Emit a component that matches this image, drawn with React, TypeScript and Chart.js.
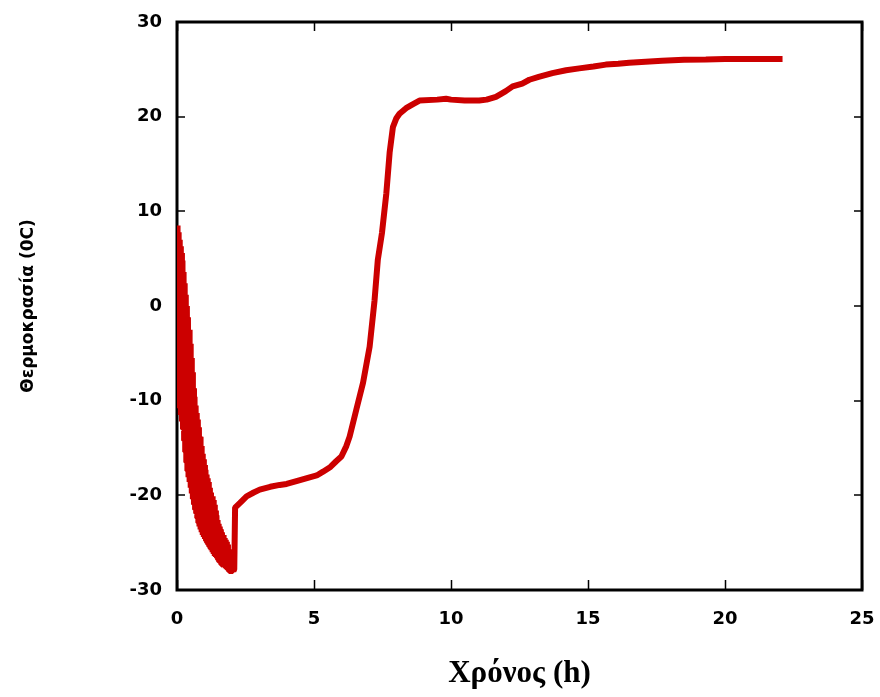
import React, { useEffect, useRef } from 'react';
import { Chart, registerables } from 'chart.js';

Chart.register(...registerables);

// Time (h)
const TIME_H = [
  0.0, 0.02, 0.04, 0.06, 0.08, 0.1, 0.12, 0.14, 0.16, 0.18, 0.2, 0.22, 0.24, 0.26, 0.28, 0.3,
  0.32, 0.34, 0.36, 0.38, 0.4, 0.42, 0.44, 0.46, 0.48, 0.5, 0.52, 0.54, 0.56, 0.58, 0.6, 0.62,
  0.64, 0.66, 0.68, 0.7, 0.72, 0.74, 0.76, 0.78, 0.8, 0.82, 0.84, 0.86, 0.88, 0.9, 0.92, 0.94,
  0.96, 0.98, 1.0, 1.02, 1.04, 1.06, 1.08, 1.1, 1.12, 1.14, 1.16, 1.18, 1.2, 1.22, 1.24, 1.26,
  1.28, 1.3, 1.32, 1.34, 1.36, 1.38, 1.4, 1.42, 1.44, 1.46, 1.48, 1.5, 1.52, 1.54, 1.56, 1.58,
  1.6, 1.62, 1.64, 1.66, 1.68, 1.7, 1.72, 1.74, 1.76, 1.78, 1.8, 1.82, 1.84, 1.86, 1.88, 1.9,
  1.92, 1.94, 1.96, 1.98, 2.0, 2.02, 2.04, 2.06, 2.09, 2.12,
  2.3, 2.54, 2.8, 3.02, 3.4, 3.75, 4.0, 4.36, 4.84, 5.1, 5.33, 5.6, 5.81, 6.0, 6.18, 6.3,
  6.54, 6.79, 7.03, 7.21, 7.33, 7.48, 7.64, 7.76, 7.88, 8.0, 8.12, 8.36, 8.6, 8.85, 9.5, 9.82,
  10.0, 10.5, 11.03, 11.3, 11.64, 12.0, 12.25, 12.6, 12.86, 13.2, 13.7, 14.2, 14.68, 15.2,
  15.65, 16.1, 16.5, 17.1, 17.7, 18.5, 19.3, 20.0, 21.0, 21.96, 22.1,
];

// Temperature (°C) — noisy cooling phase first (readings swing between two envelopes)
const TEMP_C = [
  8.5, -9.5, 7.8, -10.2, 7, -10.8, 6.3, -11.5, 5.6, -12.2, 4.8, -13, 3.6, -14.2, 2.4, -15.4,
  1.2, -16.5, 0, -17.4, -1.2, -18.1, -2.5, -18.6, -4, -19.2, -5.5, -19.8, -7, -20.4, -8.7, -21,
  -9.6, -21.5, -10.5, -21.9, -11.3, -22.4, -12, -22.9, -12.8, -23.3, -13.8, -23.6, -14.8, -23.9, -15.6, -24.2,
  -16.2, -24.4, -16.8, -24.6, -17.3, -24.8, -17.8, -25, -18.2, -25.2, -18.6, -25.4, -19.2, -25.6, -19.7, -25.8,
  -20.1, -26, -20.5, -26.2, -21, -26.4, -21.6, -26.5, -22.1, -26.6, -22.6, -26.8, -23, -27, -23.3, -27.1,
  -23.6, -27.3, -23.9, -27.4, -24.2, -27.5, -24.5, -27.6, -24.7, -27.7, -24.9, -27.8, -25.2, -27.9, -25.7, -28,
  -26.3, -28, -26.9, -28, -27.4, -28, -27.6, -28, -27.8, -21.3,
  -20.8, -20.1, -19.7, -19.4, -19.1, -18.9, -18.8, -18.5, -18.1, -17.9, -17.5, -17.0, -16.4, -15.9, -14.8, -13.8,
  -11, -8.1, -4.3, 0.6, 4.9, 7.7, 11.9, 16.2, 18.9, 19.8, 20.3, 20.9, 21.3, 21.7, 21.8, 21.9,
  21.8, 21.7, 21.7, 21.8, 22.1, 22.7, 23.2, 23.5, 23.9, 24.2, 24.6, 24.9, 25.1, 25.3,
  25.5, 25.6, 25.7, 25.8, 25.9, 26.0, 26.05, 26.1, 26.1, 26.1, 26.1,
];

const X_TICKS = [0, 5, 10, 15, 20, 25];
const Y_TICKS = [-30, -20, -10, 0, 10, 20, 30];
const X_TITLE = 'Χρόνος (h)';
const Y_TITLE = 'Θερμοκρασία (0C)';
const LINE_COLOR = '#cc0000';

const framePlugin = {
  id: 'gnuplotFrame',
  beforeDatasetsDraw(chart: any) {
    const { ctx, chartArea, scales } = chart;
    const { left, right, top, bottom } = chartArea;
    const x = scales.x;
    const y = scales.y;
    ctx.save();
    ctx.strokeStyle = '#000';
    ctx.lineWidth = 1.5;
    ctx.beginPath();
    X_TICKS.forEach((v) => {
      const px = Math.round(x.getPixelForValue(v)) + 0.5;
      ctx.moveTo(px, bottom);
      ctx.lineTo(px, bottom - 10);
      ctx.moveTo(px, top);
      ctx.lineTo(px, top + 9);
    });
    Y_TICKS.forEach((v) => {
      const py = Math.round(y.getPixelForValue(v));
      ctx.moveTo(left, py);
      ctx.lineTo(left + 8, py);
      ctx.moveTo(right, py);
      ctx.lineTo(right - 8, py);
    });
    ctx.stroke();
    ctx.lineWidth = 3;
    ctx.strokeRect(left, top, right - left, bottom - top);
    ctx.restore();
  },
};

export default function App() {
  const canvasRef = useRef<HTMLCanvasElement | null>(null);

  useEffect(() => {
    const canvas = canvasRef.current;
    if (!canvas) return;
    const points = TIME_H.map((t, i) => ({ x: t, y: TEMP_C[i] }));
    const tickFont = { family: '"DejaVu Sans", sans-serif', size: 18, weight: 'bold' as const };
    const chart = new Chart(canvas, {
      type: 'line',
      data: {
        datasets: [
          {
            data: points,
            borderColor: LINE_COLOR,
            backgroundColor: LINE_COLOR,
            borderWidth: 6,
            pointRadius: 0,
            tension: 0,
            fill: false,
            borderJoinStyle: 'bevel',
            borderCapStyle: 'butt',
          },
        ],
      },
      options: {
        animation: false,
        responsive: false,
        devicePixelRatio: 1,
        layout: { padding: { top: 22, right: 18, left: 0, bottom: 0 } },
        plugins: { legend: { display: false }, tooltip: { enabled: false } },
        scales: {
          x: {
            type: 'linear',
            min: 0,
            max: 25,
            grid: { display: false, drawTicks: false },
            border: { display: false },
            afterBuildTicks: (s: any) => {
              s.ticks = X_TICKS.map((v) => ({ value: v }));
            },
            afterFit: (s: any) => {
              s.height = 107;
              s.paddingLeft = 0;
              s.paddingRight = 0;
            },
            ticks: { color: '#000', font: tickFont, padding: 19, maxRotation: 0 },
            title: {
              display: true,
              text: X_TITLE,
              color: '#000',
              font: { family: '"Liberation Serif", "Times New Roman", serif', size: 31, weight: 'bold' },
              padding: { top: 0, bottom: 4 },
            },
          },
          y: {
            type: 'linear',
            min: -30,
            max: 30,
            grid: { display: false, drawTicks: false },
            border: { display: false },
            afterBuildTicks: (s: any) => {
              s.ticks = Y_TICKS.map((v) => ({ value: v }));
            },
            afterFit: (s: any) => {
              s.width = 177;
              s.paddingTop = 0;
              s.paddingBottom = 0;
            },
            ticks: { color: '#000', font: tickFont, padding: 15 },
            title: {
              display: true,
              text: Y_TITLE,
              color: '#000',
              font: { family: '"DejaVu Sans", sans-serif', size: 17, weight: 'bold' },
              padding: { top: 18, bottom: 0 },
            },
          },
        },
      },
      plugins: [framePlugin],
    });
    return () => chart.destroy();
  }, []);

  return (
    <div style={{ position: 'absolute', left: 0, top: 0, width: 880, height: 697, background: '#fff' }}>
      <canvas ref={canvasRef} width={880} height={697} style={{ display: 'block' }} />
    </div>
  );
}
